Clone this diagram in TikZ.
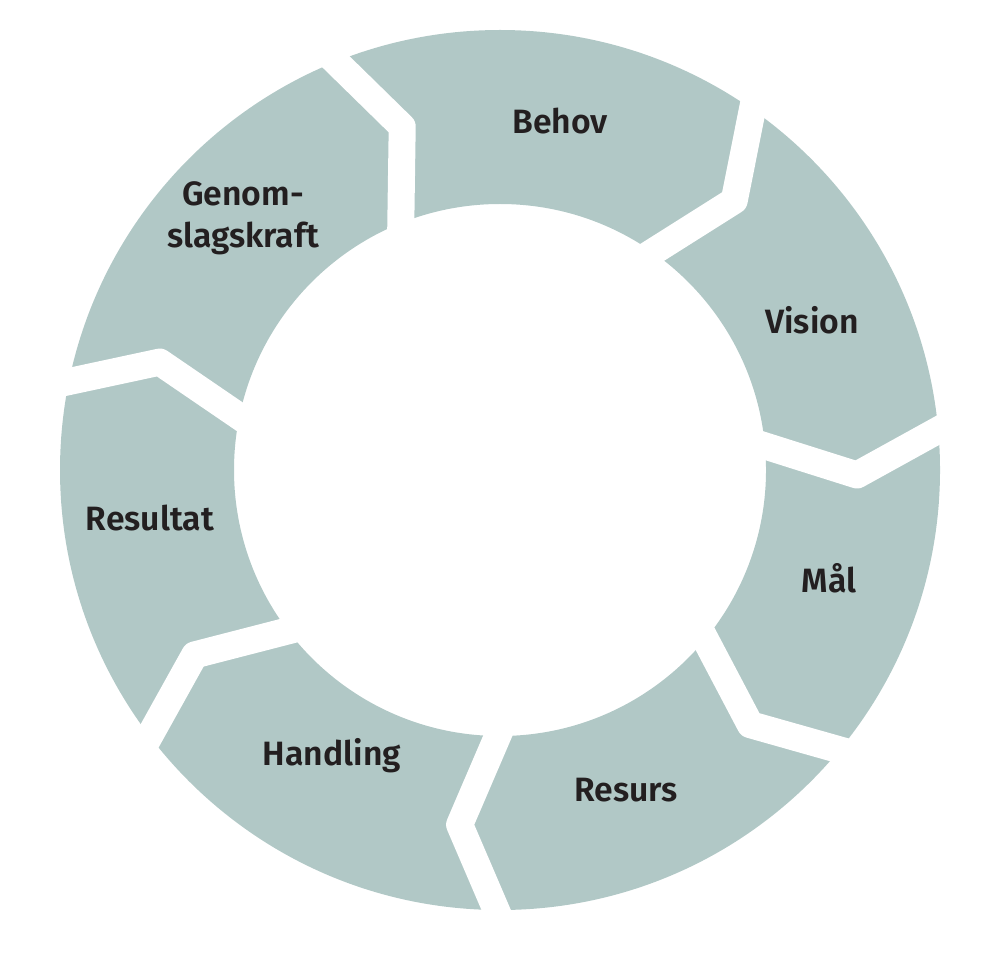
\documentclass[tikz,border=0pt]{standalone}
\usepackage{fontspec}
\setmainfont{Fira Sans}[BoldFont={Fira Sans SemiBold}]
\usetikzlibrary{calc}
\definecolor{ringgrey}{HTML}{B1C8C6}
\definecolor{labeltext}{HTML}{231F20}

\begin{document}
\begin{tikzpicture}[
  seg/.style={fill=ringgrey, even odd rule},
  gap/.style={draw=white, line width=0.27cm, line join=round},
  lbl/.style={font=\fontsize{9.6}{12}\selectfont\bfseries, text=labeltext, align=center}]
\useasboundingbox (0,0) rectangle (10,9.55);
\coordinate (c) at (5.00,4.85);

% the ring
\fill[seg] (c) circle (4.40) (c) circle (2.66);

% white gaps between the steps
\foreach \a in {55,5.2,-39.5,-90.5,-142.8,168.4,111.9} {
  \coordinate (i) at ($(c)+(\a:2.66)$);
  \coordinate (b) at ($(c)+({\a-6}:3.57)$);
  \coordinate (o) at ($(c)+(\a:4.40)$);
  \draw[gap] ($(b)!1.3!(i)$) -- (b) -- ($(b)!1.3!(o)$);
}

% step labels
\node[lbl] (behov) at (5.60,8.34) {Behov};
\node[lbl] (vision) at (8.12,6.35) {Vision};
\node[lbl] (maal) at (8.29,3.77) {Mål};
\node[lbl] (resurs) at (6.26,1.65) {Resurs};
\node[lbl] (handling) at (3.32,1.99) {Handling};
\node[lbl] (resultat) at (1.50,4.37) {Resultat};
\node[lbl] (genom) at (2.43,7.37) {Genom-\\slagskraft};
\end{tikzpicture}
\end{document}
